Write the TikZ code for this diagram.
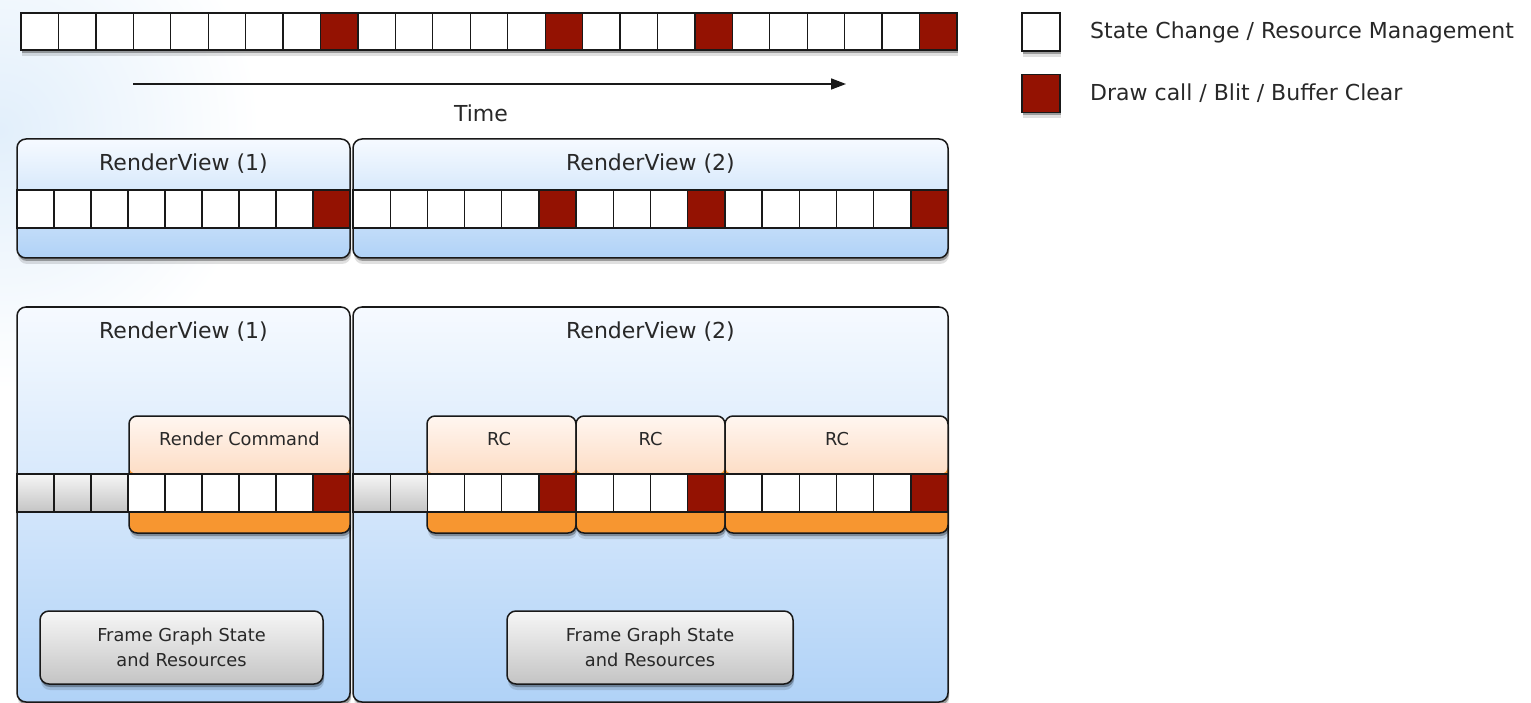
\documentclass[tikz,border=0pt]{standalone}
\usepackage{fontspec}
\setmainfont{DejaVu Sans}
\usetikzlibrary{shadows,arrows.meta}
\definecolor{dred}{RGB}{148,18,2}
\definecolor{txtc}{RGB}{40,40,40}
\definecolor{lineC}{RGB}{25,25,25}
\definecolor{btop}{RGB}{246,250,255}
\definecolor{bbot}{RGB}{176,210,247}
\definecolor{otop}{RGB}{255,246,240}
\definecolor{omid}{RGB}{251,196,154}
\definecolor{obot}{RGB}{247,150,48}
\definecolor{gtop}{RGB}{246,246,246}
\definecolor{gbot}{RGB}{196,196,196}
\definecolor{glow}{RGB}{226,239,251}
\newcommand\lblfont{\fontsize{22}{27}\selectfont}
\newcommand\smfont{\fontsize{17.8}{25}\selectfont}
\tikzset{
 cellbase/.style={draw=lineC, line width=1.3pt, inner sep=0pt, minimum height=37pt},
 cellw/.style={cellbase, fill=white},
 cellr/.style={cellbase, fill=dred},
 cellg/.style={cellbase, top color=gtop, bottom color=gbot},
 softshadow/.style={drop shadow={shadow xshift=1pt, shadow yshift=-3pt, opacity=.3, fill=black},
                    drop shadow={shadow xshift=1pt, shadow yshift=-6pt, opacity=.12, fill=black}},
 stripbg/.style={draw=lineC, line width=1.3pt, fill=white, inner sep=0pt, minimum height=37pt, softshadow},
 rvbox/.style={draw=lineC, line width=1.5pt, rounded corners=9pt, inner sep=0pt, top color=btop, bottom color=bbot, softshadow},
 rcbox/.style={draw=lineC, line width=1.5pt, rounded corners=8pt, inner sep=0pt, fill=obot, minimum height=117pt,
   path picture={\shade[top color=otop, bottom color=omid] (path picture bounding box.north west) rectangle ([yshift=-58pt]path picture bounding box.north east);},
   softshadow},
 fgbox/.style={draw=lineC, line width=1.5pt, rounded corners=9pt, top color=gtop, bottom color=gbot, minimum height=73pt,
   align=center, font=\smfont, text=txtc, inner sep=0pt, softshadow},
 lbl/.style={font=\lblfont, text=txtc, inner sep=0pt},
 smlbl/.style={font=\smfont, text=txtc, inner sep=0pt},
}
\begin{document}
\begin{tikzpicture}[x=1pt,y=-1pt]
\useasboundingbox (0,0) rectangle (1531,703);
\begin{scope}
\clip (0,0) rectangle (1531,703);
\fill[white] (0,0) rectangle (1531,703);
\shade[inner color=glow, outer color=white] (0,130) circle (260pt);
\end{scope}

% ---------- top strip ----------
\node[stripbg, minimum width=936pt] (tops) at (489,31.5) {};
\foreach \c [count=\i from 0] in {w,w,w,w,w,w,w,w,r,w,w,w,w,w,r,w,w,w,r,w,w,w,w,w,r}
  \node[cell\c, minimum width=37.44pt] (t\i) at ({21+37.44*\i+18.72},31.5) {};

\coordinate (ta) at (133,84);
\coordinate (tb) at (846,84);
\draw[lineC, line width=1.6pt, -{Triangle[length=15pt,width=11pt]}] (ta) -- (tb);
\node[lbl] (time) at (481,113) {Time};

% ---------- legend ----------
\node[cellw, minimum width=38pt, minimum height=38pt, softshadow] (legw) at (1041,32) {};
\node[cellr, minimum width=38pt, minimum height=38pt, softshadow] (legr) at (1041,93.5) {};
\node[lbl, anchor=west] (legwt) at (1090,32) {State Change / Resource Management};
\node[lbl, anchor=west] (legrt) at (1090,93) {Draw call / Blit / Buffer Clear};

% ---------- middle section ----------
\node[rvbox, minimum width=333pt, minimum height=119pt] (mrv1) at (183.5,198.5) {};
\node[rvbox, minimum width=595pt, minimum height=119pt] (mrv2) at (650.5,198.5) {};
\node[lbl] (mrv1t) at (183.5,164) {RenderView (1)};
\node[lbl] (mrv2t) at (650.5,164) {RenderView (2)};
\foreach \c [count=\i from 0] in {w,w,w,w,w,w,w,w,r}
  \node[cell\c, minimum width=37pt, minimum height=38pt] (ma\i) at ({17+37*\i+18.5},209) {};
\foreach \c [count=\i from 0] in {w,w,w,w,w,r,w,w,w,r,w,w,w,w,w,r}
  \node[cell\c, minimum width=37.19pt, minimum height=38pt] (mb\i) at ({353+37.19*\i+18.595},209) {};

% ---------- bottom section ----------
\node[rvbox, minimum width=333pt, minimum height=395pt] (brv1) at (183.5,504.5) {};
\node[rvbox, minimum width=595pt, minimum height=395pt] (brv2) at (650.5,504.5) {};
\node[lbl] (brv1t) at (183.5,332) {RenderView (1)};
\node[lbl] (brv2t) at (650.5,332) {RenderView (2)};

\node[rcbox, minimum width=221pt] (rc0) at (239.5,474.5) {};
\node[rcbox, minimum width=149pt] (rc1) at (501.5,474.5) {};
\node[rcbox, minimum width=149pt] (rc2) at (650.5,474.5) {};
\node[rcbox, minimum width=223pt] (rc3) at (836.5,474.5) {};
\node[smlbl] (rc0t) at (239.5,439) {Render Command};
\node[smlbl] (rc1t) at (499,439) {RC};
\node[smlbl] (rc2t) at (650.5,439) {RC};
\node[smlbl] (rc3t) at (837,439) {RC};

\foreach \c [count=\i from 0] in {g,g,g,w,w,w,w,w,r}
  \node[cell\c, minimum width=37pt, minimum height=38pt] (ba\i) at ({17+37*\i+18.5},493) {};
\foreach \c [count=\i from 0] in {g,g,w,w,w,r,w,w,w,r,w,w,w,w,w,r}
  \node[cell\c, minimum width=37.19pt, minimum height=38pt] (bb\i) at ({353+37.19*\i+18.595},493) {};

\node[fgbox, minimum width=283pt] (fg1) at (181.5,647.5) {Frame Graph State\\and Resources};
\node[fgbox, minimum width=286pt] (fg2) at (650,647.5) {Frame Graph State\\and Resources};
\end{tikzpicture}
\end{document}
